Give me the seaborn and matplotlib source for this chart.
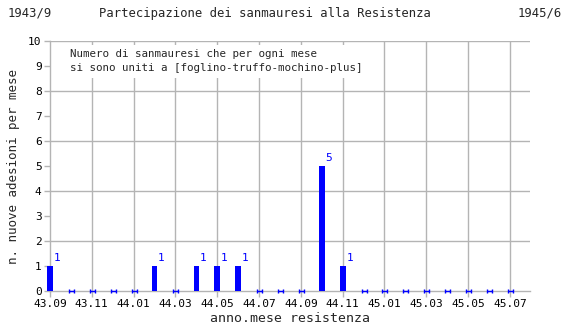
import numpy as np
import pandas as pd
import matplotlib
matplotlib.use("Agg")
import matplotlib.pyplot as plt
import seaborn as sns
from matplotlib.path import Path

# ---- data ----
months = ["43.09", "43.10", "43.11", "43.12", "44.01", "44.02", "44.03", "44.04",
          "44.05", "44.06", "44.07", "44.08", "44.09", "44.10", "44.11", "44.12",
          "45.01", "45.02", "45.03", "45.04", "45.05", "45.06", "45.07"]
adesioni = [1, 0, 0, 0, 0, 1, 0, 1, 1, 1, 0, 0, 0, 5, 1, 0, 0, 0, 0, 0, 0, 0, 0]
yticks = list(range(0, 11))
title_left = "1943/9"
title_center = "Partecipazione dei sanmauresi alla Resistenza"
title_right = "1945/6"
note = "Numero di sanmauresi che per ogni mese\nsi sono uniti a [foglino-truffo-mochino-plus]"
xlabel = "anno.mese resistenza"
ylabel = "n. nuove adesioni per mese"

df = pd.DataFrame({"mese": months, "adesioni": adesioni})

sns.set_style("white")
mono = ["DejaVu Sans Mono"]
plt.rcParams["font.family"] = mono

fig = plt.figure(figsize=(5.7, 3.3), dpi=100)
ax = fig.add_axes([50/570, 39/330, 480/570, 250/330])

grid_c = "#b4b4b4"
sns.barplot(data=df, x="mese", y="adesioni", color="#0000ff", saturation=1,
            width=0.27, ax=ax, order=months, linewidth=0)
for p in ax.patches:
    p.set_clip_on(False)
    p.set_zorder(4)

idx = np.arange(len(months))
vals = np.array(adesioni)

# zero markers (small H shape)
hmark = Path([(-1, 0), (1, 0), (-1, -0.7), (-1, 0.7), (1, -0.7), (1, 0.7)],
             [Path.MOVETO, Path.LINETO, Path.MOVETO, Path.LINETO, Path.MOVETO, Path.LINETO])
ax.plot(idx[vals == 0], vals[vals == 0], linestyle="none", marker=hmark,
        markersize=3.6, markeredgecolor="#0000ff", markeredgewidth=1.0,
        clip_on=False, zorder=5)

# value labels
for i, v in zip(idx, vals):
    if v > 0:
        ax.annotate(str(v), (i, v), xytext=(2.6, 2.2), textcoords="offset points",
                    ha="left", va="bottom", color="#0000ff", fontsize=8)

ax.set_xlim(0, 22.96)
ax.set_ylim(0, 10)
ax.set_yticks(yticks)
ax.set_yticklabels([str(t) for t in yticks], fontsize=8)
ax.set_xticks(idx[::2])
ax.set_xticklabels(months[::2], fontsize=8)

ax.set_axisbelow(True)
for t in range(2, 11, 2):
    ax.axhline(t, color=grid_c, lw=1, zorder=0)
for x in idx[::2][1:]:
    ax.axvline(x, color=grid_c, lw=1, zorder=0)

for s in ["top", "right"]:
    ax.spines[s].set_visible(False)
for s in ["left", "bottom"]:
    ax.spines[s].set_color(grid_c)
    ax.spines[s].set_linewidth(1)

ax.tick_params(axis="both", which="major", length=4, width=1, color=grid_c,
               labelcolor="black", pad=2, left=True, bottom=True)

ax.set_xlabel(xlabel, fontsize=9.5, labelpad=2)
ax.set_ylabel(ylabel, fontsize=9, labelpad=6)

ax.text(0.042, 0.968, note, transform=ax.transAxes, ha="left", va="top",
        fontsize=7.8, linespacing=1.55, zorder=10,
        bbox=dict(facecolor="white", edgecolor="none", pad=3))

fig.text(8/570, 1 - 13/330, title_left, ha="left", va="center", fontsize=8.8)
fig.text(265/570, 1 - 13/330, title_center, ha="center", va="center", fontsize=8.8)
fig.text(562/570, 1 - 13/330, title_right, ha="right", va="center", fontsize=8.8)

fig.savefig("out.png", dpi=100, facecolor="white")
